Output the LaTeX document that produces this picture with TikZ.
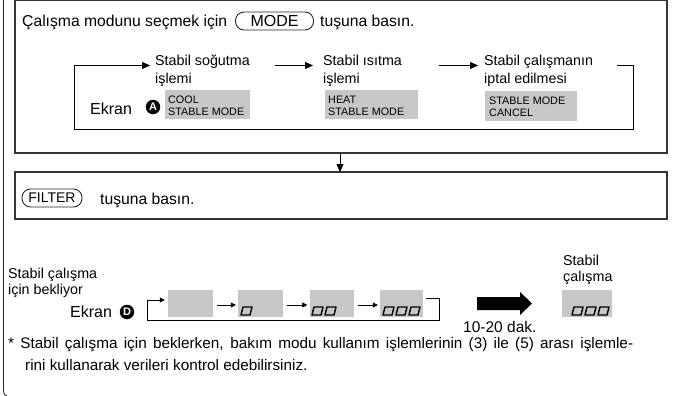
\documentclass[tikz,border=0pt]{standalone}
\usepackage{fontspec}
\setmainfont{Liberation Sans}
\usetikzlibrary{arrows.meta}
\begin{document}
\begin{tikzpicture}[x=1pt,y=-1pt,
  frame/.style={draw=black!80, line width=1.2pt},
  big/.style={font=\fontsize{15.7}{19}\selectfont, inner sep=0pt, anchor=base west},
  lbl/.style={font=\fontsize{14.3}{17}\selectfont, inner sep=0pt, anchor=base west},
  scr/.style={fill=black!22, draw=none, inner sep=0pt},
  scrtxt/.style={font=\fontsize{10.8}{12}\selectfont, inner sep=0pt, anchor=base west},
  keybtn/.style={draw=black!85, line width=0.9pt, rounded corners=8.5pt, inner sep=0pt, minimum height=18pt},
  flow/.style={-{Triangle[length=8pt,width=7pt]}, line width=0.8pt},
  sflow/.style={-{Triangle[length=5pt,width=5pt]}, line width=0.8pt},
  loopln/.style={line width=0.8pt},
  circ/.style={circle, fill=black, text=white, inner sep=0pt, minimum size=14.5pt, font=\fontsize{11}{11}\selectfont\bfseries},
  seg/.style={line width=1.4pt, line join=round},
  digit/.pic={\draw[seg] (0,8) -- (9,8) -- (11,0) -- (2,0) -- cycle;}
]
\useasboundingbox (0,0) rectangle (680,396);

% outer left frame
\draw[line width=0.9pt, black!85] (3.5,0) -- (3.5,391) to[out=-90,in=180] (7,396);

% ---------- top box ----------
\draw[frame] (15,0.6) rectangle (667,153);
\node[big] (h1) at (22,27) {Çalışma modunu seçmek için};
\node[keybtn, minimum width=78pt, font=\fontsize{16}{19}\selectfont] (mode) at (274.5,21) {MODE};
\node[big] (h2) at (320,27) {tuşuna basın.};

\node[lbl] (l1a) at (155,66) {Stabil soğutma};
\node[lbl] (l1b) at (155,83) {işlemi};
\node[lbl] (l2a) at (323,66) {Stabil ısıtma};
\node[lbl] (l2b) at (323,83) {işlemi};
\node[lbl] (l3a) at (484,66) {Stabil çalışmanın};
\node[lbl] (l3b) at (484,83) {iptal edilmesi};

\node[big, font=\fontsize{16}{19}\selectfont] (ekA) at (90,114) {Ekran};
\node[circ] (cA) at (153,107) {A};

\fill[scr] (165,90) rectangle (250,119);
\node[scrtxt] (s1a) at (168,103) {COOL};
\node[scrtxt] (s1b) at (168,115) {STABLE MODE};
\fill[scr] (325,90) rectangle (418,119);
\node[scrtxt] (s2a) at (328,103) {HEAT};
\node[scrtxt] (s2b) at (328,115) {STABLE MODE};
\fill[scr] (485,91) rectangle (577,121);
\node[scrtxt] (s3a) at (489,104.5) {STABLE MODE};
\node[scrtxt] (s3b) at (489,116.5) {CANCEL};

\coordinate (aTL) at (74.5,65.5);
\coordinate (aBL) at (74.5,129.5);
\coordinate (aBR) at (633,129.5);
\coordinate (aTR) at (633,65.5);
\coordinate (aS) at (617,65.5);
\draw[flow, shorten >=5pt] (aS) -- (aTR) -- (aBR) -- (aBL) -- (aTL) -- (aTL -| l1a.west);
\coordinate (a2s) at (275,65.5);
\draw[flow, shorten >=10pt] (a2s) -- (a2s -| l2a.west);
\coordinate (a3s) at (439,65.5);
\draw[flow, shorten >=6pt] (a3s) -- (a3s -| l3a.west);

% ---------- filter box ----------
\draw[frame] (15,172) rectangle (667,219);
\coordinate (dn) at (340,153);
\draw[flow] (dn) -- (dn |- 0,172);
\node[keybtn, minimum width=60pt, font=\fontsize{14}{17}\selectfont] (filter) at (52,198) {FILTER};
\node[big] (f2) at (100,204) {tuşuna basın.};

% ---------- bottom section ----------
\node[lbl] (w1) at (8,278) {Stabil çalışma};
\node[lbl] (w2) at (8,294.5) {için bekliyor};
\node[big, font=\fontsize{16}{19}\selectfont] (ekD) at (70,317) {Ekran};
\node[circ] (cD) at (127,312) {D};

\node[scr, minimum width=45pt, minimum height=27pt] (b1) at (190.5,303.5) {};
\node[scr, minimum width=45pt, minimum height=27pt] (b2) at (260.5,303.5) {};
\node[scr, minimum width=44pt, minimum height=27pt] (b3) at (331.5,303.5) {};
\node[scr, minimum width=43pt, minimum height=27pt] (b4) at (401.5,303.5) {};
\node[scr, minimum width=50pt, minimum height=27pt] (b5) at (587,303.5) {};

\pic at (241,307) {digit};
\pic at (312,307) {digit};
\pic at (325,307) {digit};
\pic at (383,307) {digit};
\pic at (396,307) {digit};
\pic at (409,307) {digit};
\pic at (572,307) {digit};
\pic at (585,307) {digit};
\pic at (598,307) {digit};

\draw[sflow, shorten <=4pt, shorten >=2pt] (b1.east |- 0,305) -- (b2.west |- 0,305);
\draw[sflow, shorten <=4pt, shorten >=2pt] (b2.east |- 0,305) -- (b3.west |- 0,305);
\draw[sflow, shorten <=4pt, shorten >=2pt] (b3.east |- 0,305) -- (b4.west |- 0,305);

\coordinate (dTL) at (147,300);
\coordinate (dBL) at (147,320.5);
\coordinate (dBR) at (439,320.5);
\coordinate (dTR) at (439,298.5);
\coordinate (dS) at (426,298.5);
\draw[loopln] (dS) -- (dTR) -- (dBR) -- (dBL) -- (dTL);
\draw[sflow, shorten >=3pt] (dTL) -- (dTL -| b1.west);

% big arrow
\fill[black] (477,297) -- (520,297) -- (520,292) -- (532,303.5) -- (520,315) -- (520,310) -- (477,310) -- cycle;
\node[lbl, font=\fontsize{15.5}{17}\selectfont] (dak) at (463,332) {10-20 dak.};
\node[lbl] (st1) at (563,265) {Stabil};
\node[lbl] (st2) at (563,281) {çalışma};

% footnote
\node[big, font=\fontsize{15.3}{18}\selectfont] (n1) at (8,348) {\makebox[625pt][s]{* Stabil çalışma için beklerken, bakım modu kullanım işlemlerinin (3) ile (5) arası işlemle-}};
\node[big, font=\fontsize{15.3}{18}\selectfont] (n2) at (25,370) {rini kullanarak verileri kontrol edebilirsiniz.};
\end{tikzpicture}
\end{document}
